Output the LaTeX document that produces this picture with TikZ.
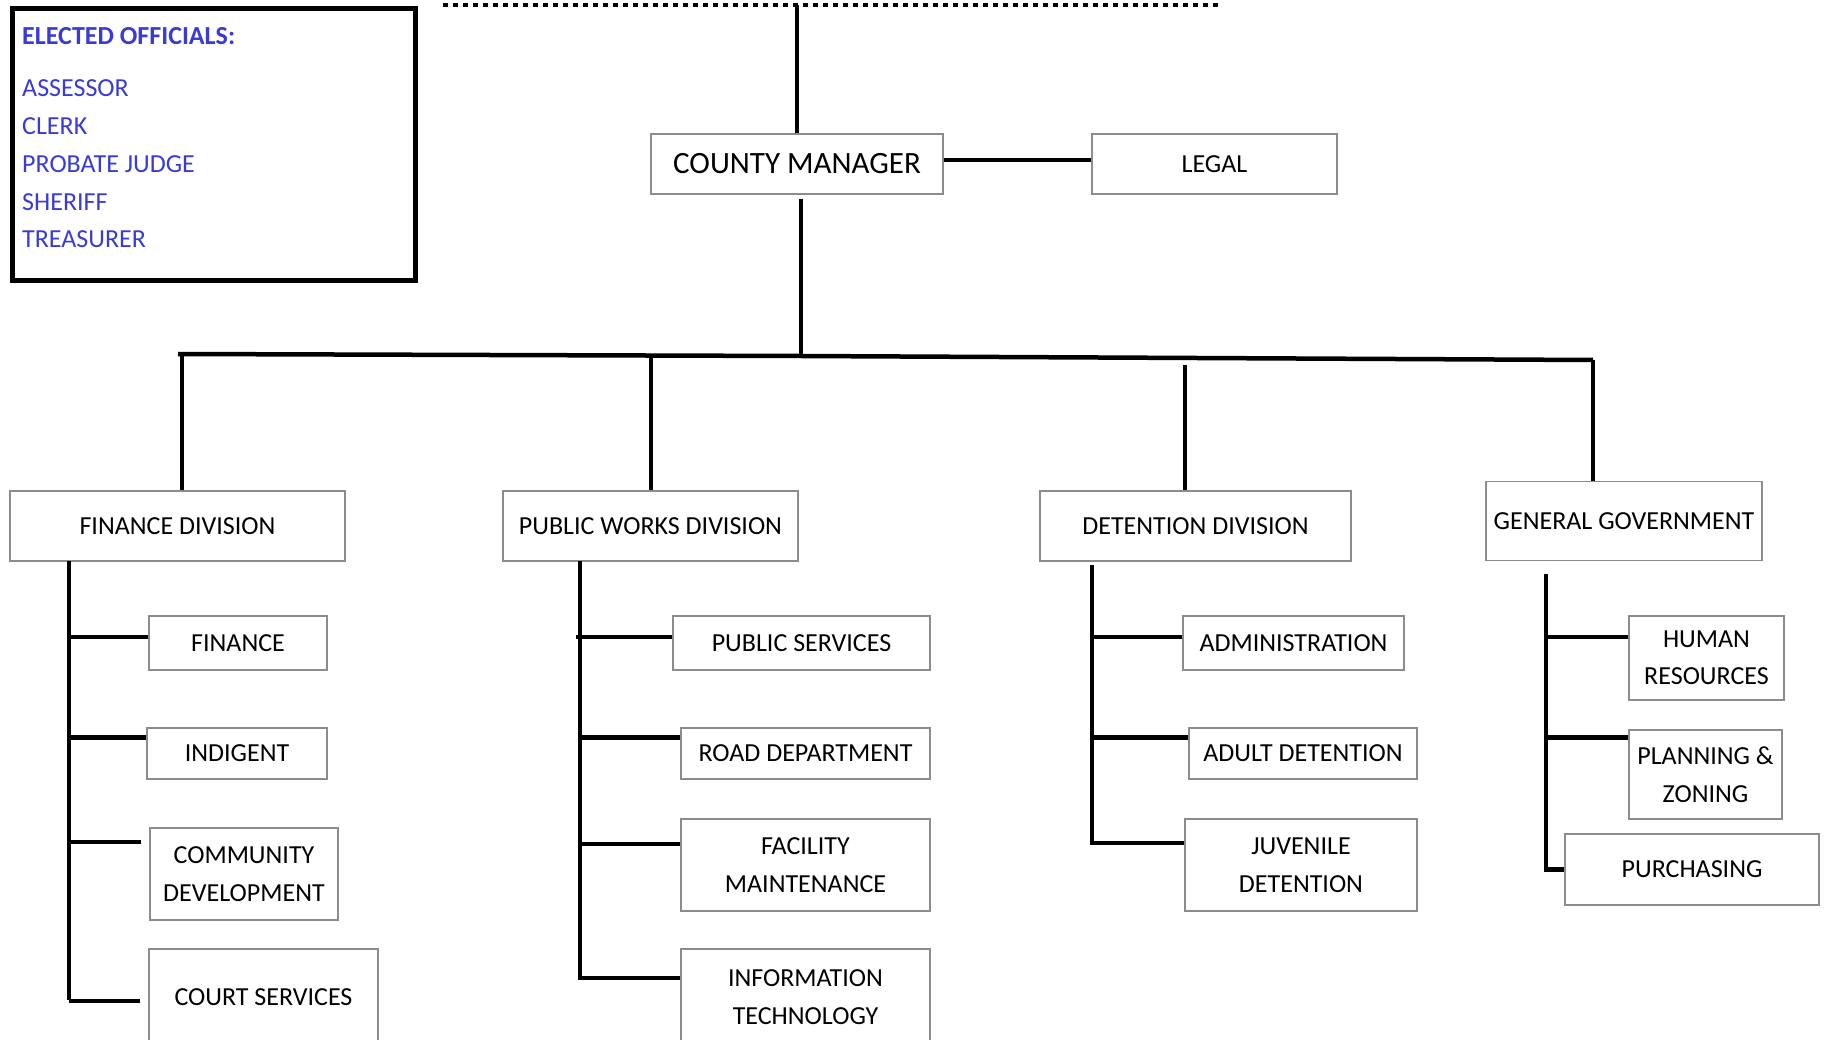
\documentclass[tikz,border=0pt]{standalone}
\usepackage{fontspec}
\setmainfont{Carlito}
\usetikzlibrary{calc}
\definecolor{electblue}{RGB}{58,58,214}

\begin{document}
\begin{tikzpicture}[x=1pt,y=-1pt,
	unit/.style={shape=rectangle,draw=black!45,line width=1.5pt,inner sep=0pt,align=center,font=\fontsize{26}{37.5}\selectfont},
	bar/.style={line width=4.5pt}]
	\useasboundingbox (0,0) rectangle (1826,1040);
	
	% elected officials
	\node[anchor=north west,draw=black,line width=5pt,minimum width=403pt,minimum height=272pt] (eo) at (10,6) {};
	\node[anchor=north west,align=left,inner sep=0pt,text=electblue,font=\fontsize{26}{37.7}\selectfont] (eotxt) at (22,27)
		{\textbf{ELECTED OFFICIALS:}\\[15pt]ASSESSOR\\CLERK\\PROBATE JUDGE\\SHERIFF\\TREASURER};
	
	\coordinate (dl) at (443,5);
	\coordinate (dr) at (1222,5);
	\draw[line width=4pt,dash pattern=on 5pt off 5pt] (dl) -- (dr);
	
	\node[unit,minimum width=292pt,minimum height=60pt,font=\fontsize{31}{36}\selectfont] (cm) at (797,164) {COUNTY MANAGER};
	\node[unit,minimum width=245pt,minimum height=60pt] (legal) at (1214.5,164) {LEGAL};
	
	\node[unit,minimum width=335pt,minimum height=70pt] (fdiv) at (177.5,526) {FINANCE DIVISION};
	\node[unit,minimum width=295pt,minimum height=70pt] (pdiv) at (650.5,526) {PUBLIC WORKS DIVISION};
	\node[unit,minimum width=311pt,minimum height=70pt] (ddiv) at (1195.5,526) {DETENTION DIVISION};
	\node[unit,minimum width=276pt,minimum height=79pt] (gdiv) at (1624,521) {GENERAL GOVERNMENT};
	
	\node[unit,minimum width=178pt,minimum height=54pt] (fin) at (238,643) {FINANCE};
	\node[unit,minimum width=180pt,minimum height=51pt] (ind) at (237,753.5) {INDIGENT};
	\node[unit,minimum width=188pt,minimum height=92pt] (com) at (244,874) {COMMUNITY\\DEVELOPMENT};
	\node[unit,minimum width=229pt,minimum height=96pt] (crt) at (263.5,997) {COURT SERVICES};
	
	\node[unit,minimum width=257pt,minimum height=54pt] (pub) at (801.5,643) {PUBLIC SERVICES};
	\node[unit,minimum width=249pt,minimum height=51pt] (road) at (805.5,753.5) {ROAD DEPARTMENT};
	\node[unit,minimum width=249pt,minimum height=92pt] (fac) at (805.5,865) {FACILITY\\MAINTENANCE};
	\node[unit,minimum width=249pt,minimum height=96pt] (it) at (805.5,997) {INFORMATION\\TECHNOLOGY};
	
	\node[unit,minimum width=221pt,minimum height=54pt] (adm) at (1293.5,643) {ADMINISTRATION};
	\node[unit,minimum width=228pt,minimum height=51pt] (adu) at (1303,753.5) {ADULT DETENTION};
	\node[unit,minimum width=232pt,minimum height=92pt] (juv) at (1301,865) {JUVENILE\\DETENTION};
	
	\node[unit,minimum width=155pt,minimum height=84pt] (hr) at (1706.5,658) {HUMAN\\RESOURCES};
	\node[unit,minimum width=153pt,minimum height=89pt] (plz) at (1705.5,774.5) {PLANNING \&\\ZONING};
	\node[unit,minimum width=254pt,minimum height=71pt] (pur) at (1692,869.5) {PURCHASING};
	
	% manager and bus
	\draw[bar] (cm.north) -- (cm.north |- dl);
	\draw[bar] ([yshift=4pt]cm.east) -- ([yshift=4pt]legal.west);
	\coordinate (busl) at (178,354);
	\coordinate (busr) at (1593,360);
	\coordinate (j0) at (801,356);
	\coordinate (cmb) at (801,199);
	\draw[bar] (busl) -- (j0) -- (busr);
	\draw[bar] (cmb) -- (j0);
	
	\coordinate (j1) at (182,354);
	\coordinate (j2) at (651,356);
	\coordinate (j3) at (1185,365);
	\draw[bar] (j1) -- (j1 |- fdiv.north);
	\draw[bar] (j2) -- (j2 |- pdiv.north);
	\draw[bar] (j3) -- (j3 |- ddiv.north);
	\draw[bar] (busr) -- (busr |- gdiv.north);
	
	% spines
	\coordinate (fs) at (69,561);
	\coordinate (ps) at (580,561);
	\coordinate (ds) at (1092,565);
	\coordinate (gs) at (1546,574);
	
	\draw[bar] (fs) -- ($(fs |- crt.west)+(0,3)$);
	\draw[bar] ([yshift=6pt]fin.west) -- ([yshift=6pt]fin.west -| fs);
	\draw[bar] ([yshift=16pt]ind.west) -- ([yshift=16pt]ind.west -| fs);
	\draw[bar,shorten <=8pt] ([yshift=32pt]com.west) -- ([yshift=32pt]com.west -| fs);
	\draw[bar,shorten <=8pt] ([yshift=-4pt]crt.west) -- ([yshift=-4pt]crt.west -| fs);
	
	\draw[bar] (ps) |- ([yshift=19pt]it.west);
	\draw[bar] ([yshift=6pt]pub.west) -- ([yshift=6pt,xshift=-4pt]pub.west -| ps);
	\draw[bar] ([yshift=16pt]road.west) -- ([yshift=16pt]road.west -| ps);
	\draw[bar] ([yshift=21pt]fac.west) -- ([yshift=21pt]fac.west -| ps);
	
	\draw[bar] (ds) |- ([yshift=22pt]juv.west);
	\draw[bar] ([yshift=6pt]adm.west) -- ([yshift=6pt]adm.west -| ds);
	\draw[bar] ([yshift=16pt]adu.west) -- ([yshift=16pt]adu.west -| ds);
	
	\draw[bar] (gs) |- (pur.west);
	\draw[bar] ([yshift=21pt]hr.west) -- ([yshift=21pt]hr.west -| gs);
	\draw[bar] ([yshift=37pt]plz.west) -- ([yshift=37pt]plz.west -| gs);
\end{tikzpicture}
\end{document}
